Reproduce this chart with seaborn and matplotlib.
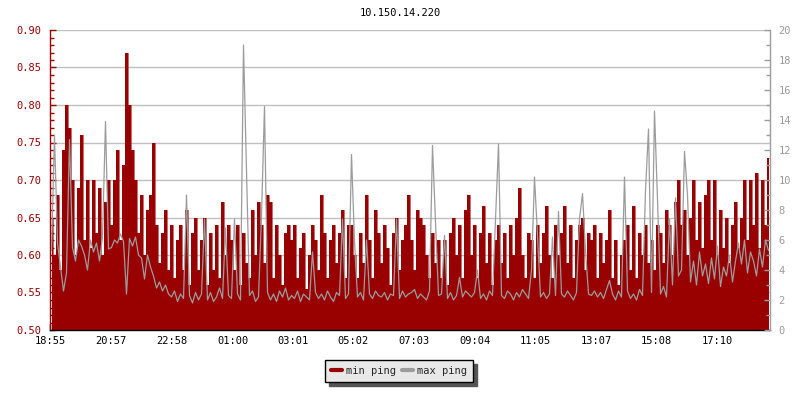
import numpy as np
import matplotlib
matplotlib.use("Agg")
import matplotlib.pyplot as plt
from matplotlib.lines import Line2D
from matplotlib.ticker import MultipleLocator, FixedLocator
import seaborn as sns

title = "10.150.14.220"
start_label = "18:55"
tick_labels = ["18:55", "20:57", "22:58", "01:00", "03:01", "05:02",
               "07:03", "09:04", "11:05", "13:07", "15:08", "17:10"]
sample_minutes = 6  # one sample every 6 minutes

# min ping (ms), left axis
min_ping = [
    0.65, 0.60, 0.68, 0.58, 0.74, 0.80, 0.77, 0.70, 0.60, 0.69,
    0.76, 0.62, 0.70, 0.61, 0.70, 0.63, 0.69, 0.60, 0.67, 0.70,
    0.64, 0.70, 0.74, 0.62, 0.72, 0.87, 0.80, 0.74, 0.70, 0.63,
    0.68, 0.60, 0.66, 0.68, 0.75, 0.64, 0.59, 0.63, 0.66, 0.58,
    0.64, 0.57, 0.62, 0.64, 0.58, 0.66, 0.56, 0.63, 0.65, 0.58,
    0.62, 0.65, 0.56, 0.63, 0.58, 0.64, 0.57, 0.67, 0.60, 0.64,
    0.62, 0.58, 0.64, 0.56, 0.63, 0.59, 0.57, 0.66, 0.60, 0.67,
    0.64, 0.59, 0.68, 0.67, 0.57, 0.64, 0.60, 0.56, 0.63, 0.64,
    0.62, 0.64, 0.57, 0.61, 0.63, 0.555, 0.60, 0.64, 0.62, 0.58,
    0.68, 0.63, 0.57, 0.62, 0.64, 0.59, 0.63, 0.66, 0.57, 0.64,
    0.64, 0.60, 0.57, 0.63, 0.59, 0.68, 0.62, 0.57, 0.66, 0.63,
    0.59, 0.64, 0.61, 0.56, 0.63, 0.65, 0.58, 0.62, 0.64, 0.68,
    0.62, 0.58, 0.66, 0.65, 0.64, 0.60, 0.57, 0.63, 0.59, 0.62,
    0.57, 0.62, 0.56, 0.63, 0.65, 0.60, 0.64, 0.57, 0.66, 0.68,
    0.60, 0.64, 0.57, 0.63, 0.665, 0.59, 0.63, 0.56, 0.62, 0.64,
    0.59, 0.63, 0.57, 0.64, 0.60, 0.65, 0.69, 0.60, 0.57, 0.63,
    0.62, 0.57, 0.64, 0.59, 0.63, 0.665, 0.60, 0.57, 0.64, 0.60,
    0.63, 0.665, 0.59, 0.64, 0.57, 0.62, 0.64, 0.65, 0.58, 0.63,
    0.62, 0.64, 0.57, 0.63, 0.59, 0.62, 0.66, 0.57, 0.62, 0.56,
    0.60, 0.62, 0.64, 0.58, 0.665, 0.57, 0.63, 0.60, 0.64, 0.59,
    0.62, 0.58, 0.64, 0.63, 0.59, 0.66, 0.64, 0.60, 0.67, 0.70,
    0.64, 0.66, 0.60, 0.65, 0.70, 0.62, 0.67, 0.61, 0.68, 0.70,
    0.62, 0.70, 0.60, 0.66, 0.61, 0.65, 0.59, 0.64, 0.67, 0.61,
    0.65, 0.70, 0.62, 0.70, 0.64, 0.71, 0.61, 0.70, 0.64, 0.73,
]

# max ping (ms), right axis
max_ping = [
    5.3, 13.0, 5.8, 4.2, 2.6, 3.8, 12.7, 5.5, 4.6, 6.0,
    5.6, 5.0, 4.0, 6.0, 5.2, 5.8, 4.6, 6.2, 13.9, 5.4,
    5.5, 6.0, 5.8, 6.4, 5.9, 2.4, 6.1, 5.6, 6.2, 5.0,
    4.8, 3.4, 5.0, 4.2, 3.6, 2.8, 3.2, 2.6, 3.0, 2.4,
    2.2, 2.6, 1.9, 2.4, 2.1, 9.0, 2.3, 1.8, 2.5, 2.0,
    2.4, 7.4, 2.0, 2.5, 1.9, 2.2, 2.8, 2.1, 6.8, 2.3,
    2.1, 7.4, 2.4, 2.0, 19.0, 10.8, 2.3, 2.6, 1.9, 2.2,
    7.6, 14.9, 2.5, 2.0, 2.4, 1.9, 2.6, 2.2, 2.8, 2.0,
    2.3, 2.1, 2.6, 1.9, 2.4, 2.2, 2.0, 5.2, 2.5, 2.1,
    2.4, 2.0, 2.6, 2.2, 1.9, 2.5, 2.3, 7.4, 2.1, 2.4,
    11.7, 5.9, 2.2, 2.5, 2.0, 6.0, 2.4, 2.1, 2.6, 2.3,
    2.2, 2.5, 2.0, 2.4, 2.3, 7.4, 2.1, 2.6, 2.2, 2.4,
    2.5, 2.7, 2.1, 2.4, 2.2, 2.0, 2.6, 12.3, 7.2, 2.3,
    2.4, 6.3, 2.1, 2.5, 2.0, 2.3, 3.5, 2.2, 2.6, 2.4,
    2.2, 2.5, 4.0, 2.1, 2.4, 2.0, 2.6, 2.3, 7.3, 12.4,
    2.3, 2.1, 2.6, 2.4, 2.0, 2.5, 2.2, 2.7, 2.4, 2.1,
    4.0, 10.2, 6.3, 2.2, 2.5, 2.1, 2.4, 6.2, 2.3, 7.9,
    2.4, 2.2, 2.6, 2.3, 2.0, 2.5, 7.4, 9.1, 5.3, 2.4,
    2.3, 2.6, 2.2, 2.5, 2.1, 2.7, 3.3, 2.4, 2.0, 2.6,
    2.2, 10.2, 2.6, 2.1, 2.4, 2.0, 2.7, 2.3, 9.3, 13.4,
    2.5, 14.6, 8.7, 2.4, 2.9, 2.2, 7.4, 3.0, 8.8, 3.6,
    4.0, 11.9, 9.0, 3.2, 4.6, 3.0, 5.2, 3.6, 4.4, 3.1,
    4.8, 3.4, 5.6, 2.9, 4.2, 3.6, 5.0, 3.2, 4.6, 5.8,
    4.4, 6.0, 3.8, 5.2, 4.6, 3.6, 5.4, 4.2, 6.0, 5.3,
]

RED = "#990000"
GREY = "#9c9c9c"

sns.set_theme(style="white")
plt.rcParams["font.family"] = ["DejaVu Sans Mono"]
plt.rcParams["font.size"] = 7.5

n = len(min_ping)
t = np.arange(n) * sample_minutes + sample_minutes / 2.0


def to_minutes(lbl):
    h, m = map(int, lbl.split(":"))
    sh, sm = map(int, start_label.split(":"))
    return ((h * 60 + m) - (sh * 60 + sm)) % 1440


tick_pos = [to_minutes(l) for l in tick_labels]

fig = plt.figure(figsize=(8, 4), dpi=100)
ax = fig.add_axes([50 / 800, 70 / 400, 720 / 800, 300 / 400])
ax2 = ax.twinx()

# min ping as filled (stepped) area
ax.fill_between(t, 0.5, min_ping, step="mid", color=RED, linewidth=0, zorder=2)
sns.lineplot(x=t, y=min_ping, ax=ax, color=RED, linewidth=0.4,
             drawstyle="steps-mid", zorder=2)

# max ping line
sns.lineplot(x=t, y=max_ping, ax=ax2, color=GREY, linewidth=0.9)

ax.set_xlim(0, 1440)
ax.set_ylim(0.5, 0.9)
ax2.set_ylim(0, 20)
ax.set_xlabel("")
ax.set_ylabel("")
ax2.set_ylabel("")

ax.set_axisbelow(True)
ax.yaxis.set_major_locator(MultipleLocator(0.05))
ax.yaxis.set_minor_locator(MultipleLocator(0.01))
ax.yaxis.set_major_formatter(matplotlib.ticker.FormatStrFormatter("%.2f"))
ax.grid(axis="y", which="major", color="#c0c0c0", linewidth=1.0)
ax.grid(axis="x", visible=False)

ax.xaxis.set_major_locator(FixedLocator(tick_pos))
ax.set_xticklabels(tick_labels)

ax.tick_params(axis="y", which="both", direction="in", colors=RED,
               labelcolor=RED, length=4, width=1, pad=6, left=True, labelsize=7.5)
ax.tick_params(axis="y", which="minor", length=3)
ax.tick_params(axis="x", direction="in", colors="black", length=4, width=1,
               pad=4, bottom=True, labelsize=7.5)

ax2.yaxis.set_major_locator(MultipleLocator(2))
ax2.yaxis.set_minor_locator(MultipleLocator(1))
ax2.tick_params(axis="y", which="both", direction="in", colors=GREY,
                labelcolor=GREY, length=4, width=1, pad=6, right=True, labelsize=7.5)
ax2.tick_params(axis="y", which="minor", length=3)
ax2.grid(False)

for a in (ax, ax2):
    a.spines["top"].set_visible(False)
ax.spines["left"].set_color(RED)
ax.spines["left"].set_linewidth(1)
ax.spines["right"].set_visible(False)
ax.spines["bottom"].set_color("black")
ax.spines["bottom"].set_linewidth(1)
ax2.spines["right"].set_color(GREY)
ax2.spines["right"].set_linewidth(1)
ax2.spines["left"].set_visible(False)
ax2.spines["bottom"].set_visible(False)

fig.text(0.5, 1 - 13 / 400, title, ha="center", va="center", fontsize=7.5, color="black")

handles = [Line2D([0], [0], color=RED, lw=3), Line2D([0], [0], color=GREY, lw=3)]
leg = fig.legend(handles, ["min ping", "max ping"], loc="center",
                 bbox_to_anchor=(399 / 800, 1 - 371 / 400), ncol=2,
                 frameon=True, fancybox=False, fontsize=7.5,
                 handlelength=1.1, handletextpad=0.4, columnspacing=0.5,
                 borderpad=0.55, borderaxespad=0,
                 shadow={"color": "#555555", "alpha": 1.0, "ox": 3, "oy": -3})
leg.get_frame().set_facecolor("#e8e8e8")
leg.get_frame().set_edgecolor("black")
leg.get_frame().set_linewidth(1.0)
leg.get_frame().set_alpha(1.0)

fig.savefig("out.png", dpi=100)
